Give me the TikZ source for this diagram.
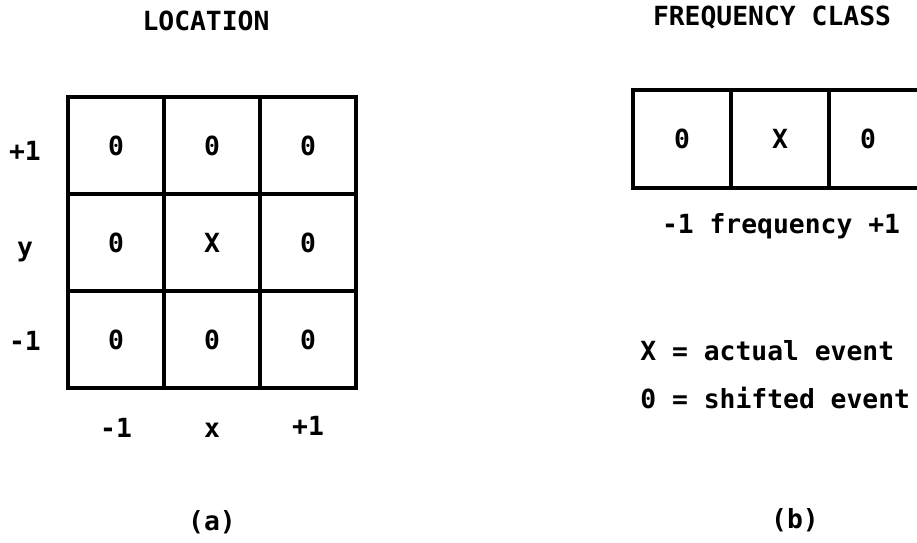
\documentclass[tikz,border=0pt]{standalone}
\usepackage{fontspec}
\newfontfamily\typefont{DejaVu Sans Mono}
\usetikzlibrary{positioning}

\begin{document}
\begin{tikzpicture}[
  x=0.02cm, y=-0.02cm,
  cell/.style={draw, line width=2.8pt, minimum width=1.92cm, minimum height=1.94cm,
               inner sep=0pt, outer sep=0pt, font=\typefont\bfseries\fontsize{15}{18}\selectfont},
  fcell/.style={cell, minimum width=1.96cm, minimum height=1.96cm},
  lbl/.style={inner sep=0pt, anchor=base, font=\typefont\bfseries\fontsize{15}{18}\selectfont},
  key/.style={lbl, anchor=base west}
]
\useasboundingbox (0,0) rectangle (917,542);
\clip (0,0) rectangle (917,542);

% (a) location grid
\node[lbl] (loc) at (206,30) {LOCATION};
\foreach \t [count=\i from 0] in {0,0,0,0,X,0,0,0,0} {
  \pgfmathtruncatemacro\r{div(\i,3)}
  \pgfmathtruncatemacro\c{mod(\i,3)}
  \node[cell] (g\r\c) at ({116+96*\c},{145.5+97*\r}) {\t};
}
\node[lbl] (ytop) at (25,160) {+1};
\node[lbl] (ymid) at (25,256) {y};
\node[lbl] (ybot) at (25,350) {-1};
\node[lbl] (xlft) at (g20 |- 0,437) {-1};
\node[lbl] (xmid) at (g21 |- 0,437) {x};
\node[lbl] (xrgt) at (g22 |- 0,435) {+1};
\node[lbl] (capa) at (212,530) {(a)};

% (b) frequency class
\node[lbl] (freq) at (772,25) {FREQUENCY CLASS};
\node[fcell] (f1) at (682,139) {0};
\node[fcell] (f2) at (780,139) {X};
\node[fcell] (f3) at (878,139) {\hspace*{-0.4cm}0};
\node[lbl] (faxis) at (781,233) {-1 frequency +1};
\node[key] (kx) at (640,360) {X = actual event};
\node[key] (k0) at (640,408) {0 = shifted event};
\node[lbl] (capb) at (795,528) {(b)};
\end{tikzpicture}
\end{document}
